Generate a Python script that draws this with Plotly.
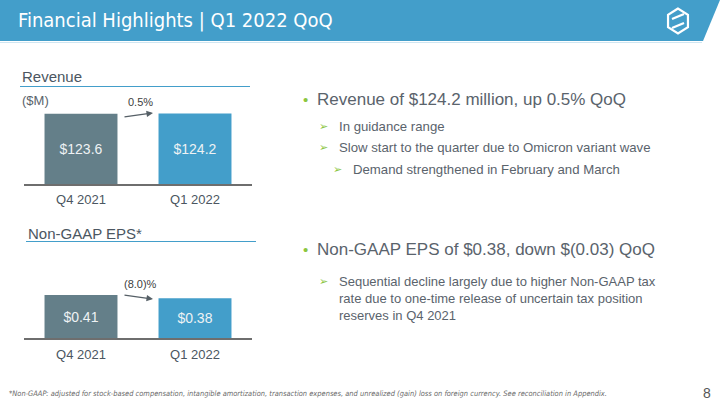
import plotly.graph_objects as go
import math

W, H = 720, 405

periods = ["Q4 2021", "Q1 2022"]
revenue = [123.6, 124.2]
revenue_labels = ["$123.6", "$124.2"]
eps = [0.41, 0.38]
eps_labels = ["$0.41", "$0.38"]
rev_change = "0.5%"
eps_change = "(8.0)%"

title_text = "Financial Highlights | Q1 2022 QoQ"
rev_bullet = "Revenue of $124.2 million, up 0.5% QoQ"
rev_subs = ["In guidance range", "Slow start to the quarter due to Omicron variant wave"]
rev_subsub = "Demand strengthened in February and March"
eps_bullet = "Non-GAAP EPS of $0.38, down $(0.03) QoQ"
eps_subs = ["Sequential decline largely due to higher Non-GAAP tax",
            "rate due to one-time release of uncertain tax position",
            "reserves in Q4 2021"]
footnote = ("*Non-GAAP: adjusted for stock-based compensation, intangible amortization, transaction expenses, "
            "and unrealized (gain) loss on foreign currency. See reconciliation in Appendix.")
page_no = "8"

BLUE = "#439ECA"
GREYBAR = "#647F89"
TXT = "#5A636C"
HEAD = "#4B5661"
GREEN = "#8CC63F"
FONT = "DejaVu Sans Condensed, sans-serif"
FONT2 = "Liberation Sans"

def px(x):
    return x / W

def py(y):
    return 1 - y / H

fig = go.Figure()
fig.add_trace(go.Bar(x=periods, y=revenue, text=revenue_labels, marker_color=[GREYBAR, BLUE],
                     marker_line_width=0, width=0.64, textposition="inside", insidetextanchor="middle",
                     textfont=dict(color="#EEF2F4", size=14, family=FONT2), xaxis="x", yaxis="y",
                     hoverinfo="skip"))
fig.add_trace(go.Bar(x=periods, y=eps, text=eps_labels, marker_color=[GREYBAR, BLUE],
                     marker_line_width=0, width=0.64, textposition="inside", insidetextanchor="middle",
                     textfont=dict(color="#EEF2F4", size=14, family=FONT2), xaxis="x2", yaxis="y2",
                     hoverinfo="skip"))

axfont = dict(size=13, color=HEAD, family=FONT2)
fig.update_layout(
    width=W, height=H, margin=dict(l=0, r=0, t=0, b=0),
    paper_bgcolor="white", plot_bgcolor="rgba(0,0,0,0)", showlegend=False,
    xaxis=dict(domain=[px(24), px(252)], showline=True, linecolor="#6E6E6E", linewidth=1.5,
               tickfont=axfont, ticks="", showgrid=False, anchor="y", fixedrange=True,
               ticklabelstandoff=3),
    yaxis=dict(domain=[py(184), py(100)], range=[0, 148], visible=False, fixedrange=True),
    xaxis2=dict(domain=[px(24), px(252)], showline=True, linecolor="#6E6E6E", linewidth=1.5,
                tickfont=axfont, ticks="", showgrid=False, anchor="y2", fixedrange=True,
                ticklabelstandoff=4),
    yaxis2=dict(domain=[py(338), py(280)], range=[0, 0.553], visible=False, fixedrange=True),
)

shapes = []
shapes.append(dict(type="path", xref="paper", yref="paper",
                   path=f"M 0,{py(0)} L {px(720)},{py(0)} L {px(703)},{py(41)} L 0,{py(41)} Z",
                   fillcolor=BLUE, line_width=0, layer="below"))
shapes.append(dict(type="line", xref="paper", yref="paper", x0=0, x1=px(702), y0=py(42.5), y1=py(42.5),
                   line=dict(color="#CFE6F2", width=1)))
cx, cy, r = 678, 21, 12.5
pts = []
for k in range(6):
    a = math.radians(90 + 60 * k)
    pts.append((cx + r * math.cos(a) * 0.92, cy - r * math.sin(a)))
path = "M " + " L ".join(f"{px(x)},{py(y)}" for x, y in pts) + " Z"
shapes.append(dict(type="path", xref="paper", yref="paper", path=path,
                   line=dict(color="white", width=2.2), fillcolor="rgba(0,0,0,0)"))
for (x0, y0, x1, y1) in [(672, 19, 684, 14), (672, 28, 684, 23)]:
    shapes.append(dict(type="line", xref="paper", yref="paper", x0=px(x0), y0=py(y0), x1=px(x1), y1=py(y1),
                       line=dict(color="white", width=2.4)))
shapes.append(dict(type="line", xref="paper", yref="paper", x0=px(20), x1=px(250), y0=py(86.5), y1=py(86.5),
                   line=dict(color=BLUE, width=1.2)))
shapes.append(dict(type="line", xref="paper", yref="paper", x0=px(26), x1=px(256), y0=py(241.5), y1=py(241.5),
                   line=dict(color=BLUE, width=1.2)))
fig.update_layout(shapes=shapes)

ann = []
def text(x, y, s, size, color=TXT, family=FONT2, xanchor="left", **kw):
    ann.append(dict(x=px(x), y=py(y), xref="paper", yref="paper", text=s, showarrow=False,
                    xanchor=xanchor, yanchor="middle", font=dict(size=size, color=color, family=family), **kw))

text(16, 20, title_text, 20, color="white", family=FONT)
text(20, 77, "Revenue", 15, color=HEAD, family=FONT2)
text(20, 100, "($M)", 13, color=TXT)
text(26, 233, "Non-GAAP EPS*", 15, color=HEAD, family=FONT2)
text(140, 102, rev_change, 11, color="#404040", xanchor="center")
text(140, 284, eps_change, 11, color="#404040", xanchor="center")

for (hx, hy, tx, ty) in [(153, 113, 123, 117), (153, 299, 123, 295)]:
    ann.append(dict(x=px(hx), y=py(hy), xref="paper", yref="paper", ax=tx - hx, ay=ty - hy,
                    axref="pixel", ayref="pixel", showarrow=True, arrowhead=2, arrowsize=1,
                    arrowwidth=1.3, arrowcolor="#555F66", text=""))

text(301, 99, "•", 15, color=GREEN)
text(315, 99, rev_bullet, 17, color=TXT)
for i, s in enumerate(rev_subs):
    y = 126 + i * 21.5
    text(317, y, "➢", 11, color=GREEN, family="DejaVu Sans")
    text(337, y, s, 13.2, color=TXT)
text(331, 169, "➢", 11, color=GREEN, family="DejaVu Sans")
text(351, 169, rev_subsub, 13.2, color=TXT)

text(301, 249, "•", 15, color=GREEN)
text(315, 249, eps_bullet, 17, color=TXT)
text(317, 281, "➢", 11, color=GREEN, family="DejaVu Sans")
for i, s in enumerate(eps_subs):
    text(337, 281 + i * 17, s, 13, color=TXT)

text(7, 393, "<i>" + footnote + "</i>", 7.45, color="#6A6A6A", family=FONT)
text(713, 393, page_no, 14, color="#555555", xanchor="right")

fig.update_layout(annotations=ann)
fig.write_html("out.html")
